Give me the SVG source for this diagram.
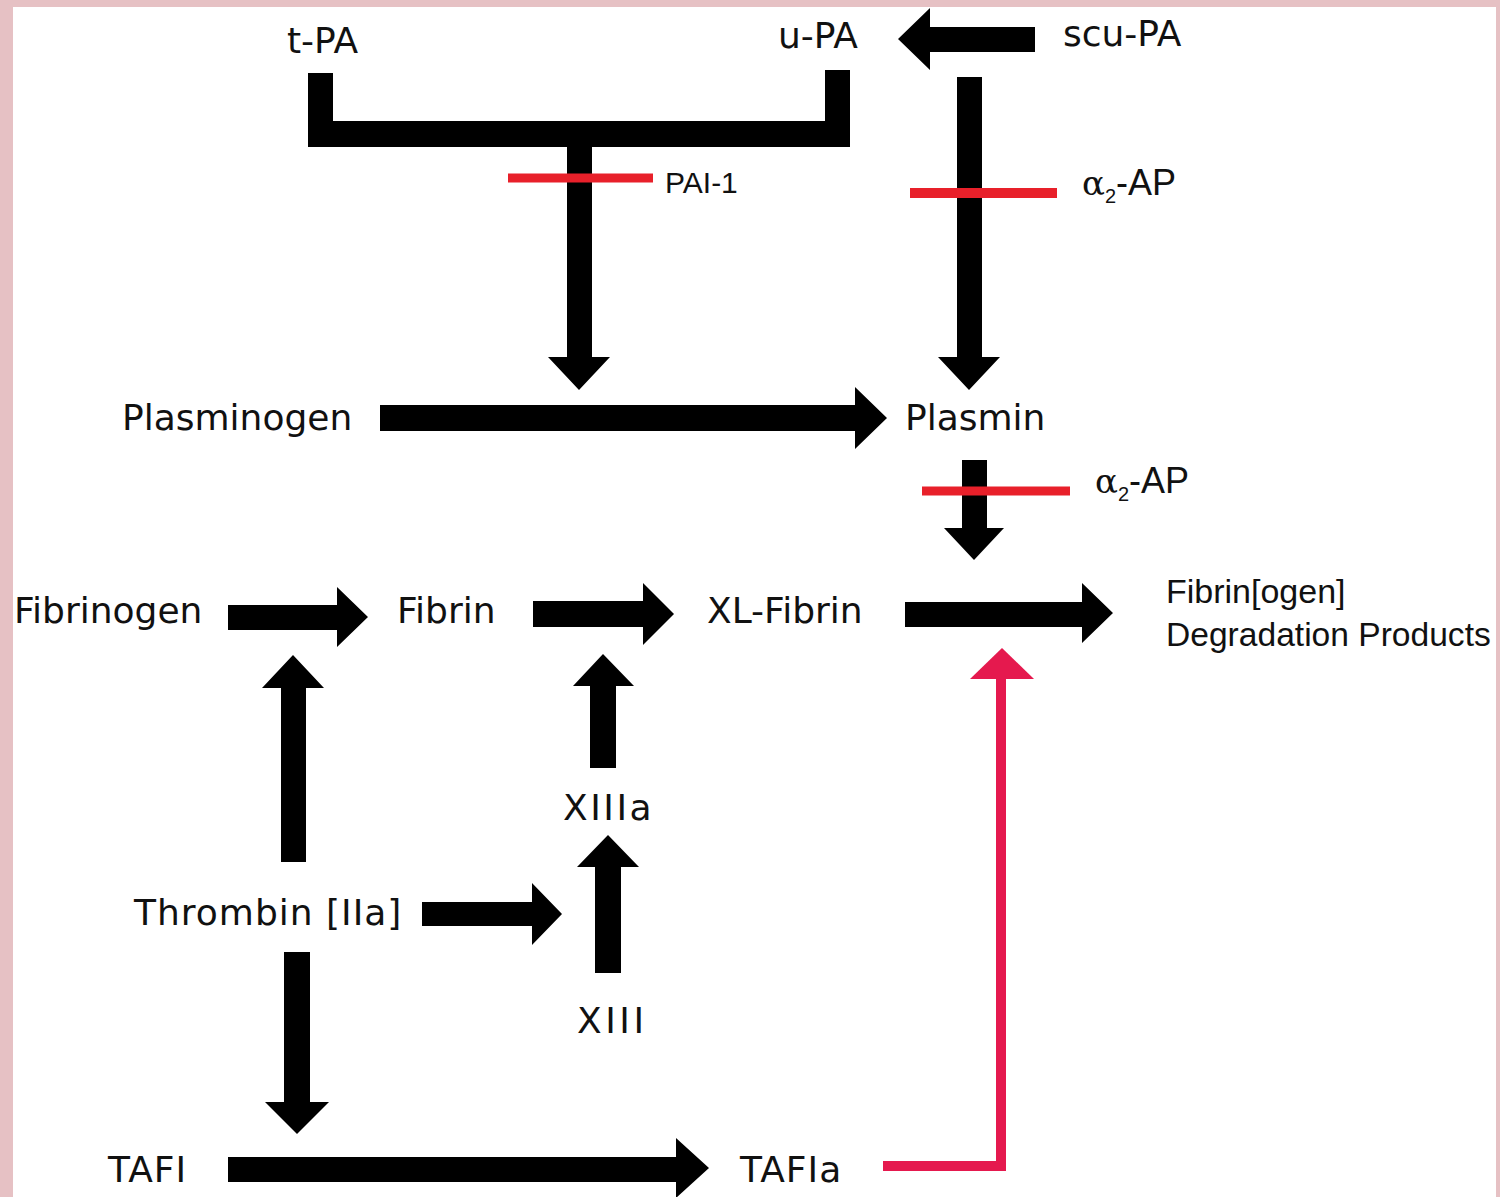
<svg xmlns="http://www.w3.org/2000/svg" width="1500" height="1197" viewBox="0 0 1500 1197">
<style>
.v{font-family:"DejaVu Sans",Verdana,sans-serif;font-size:36px;fill:#111}
.m{font-family:"Liberation Sans",Arial,sans-serif;fill:#111}
.blk{fill:#000}
.inh{stroke:#e8202a;stroke-width:9;fill:none}
.act{stroke:#e5194e;stroke-width:10;fill:none}
.al{font-family:"DejaVu Serif","Liberation Serif",serif;font-size:34px}
</style>
<rect x="0" y="0" width="1500" height="1197" fill="#e6c1c4"/>
<rect x="13" y="7" width="1483" height="1190" fill="#ffffff"/>
<g id="connectors">
<path class="blk" d="M1035,27 L930,27 L930,8 L898,39 L930,70 L930,52 L1035,52 Z"/>
<path class="blk" d="M308,73 L333,73 L333,121 L825,121 L825,70 L850,70 L850,147 L592,147 L592,357 L610,357 L579,390 L548,357 L567,357 L567,147 L308,147 Z"/>
<path class="blk" d="M957,77 L982,77 L982,357 L1000,357 L969,390 L938,357 L957,357 Z"/>
<path class="blk" d="M380,405 L855,405 L855,387 L887,418 L855,449 L855,431 L380,431 Z"/>
<path class="blk" d="M962,460 L987,460 L987,528 L1004,528 L974,560 L944,528 L962,528 Z"/>
<path class="blk" d="M905,602 L1082,602 L1082,583 L1113,613 L1082,643 L1082,627 L905,627 Z"/>
<path class="blk" d="M228,605 L337,605 L337,587 L368,617 L337,647 L337,630 L228,630 Z"/>
<path class="blk" d="M533,601 L643,601 L643,583 L674,614 L643,645 L643,627 L533,627 Z"/>
<path class="blk" d="M281,862 L306,862 L306,688 L324,688 L293,655 L262,688 L281,688 Z"/>
<path class="blk" d="M590,768 L616,768 L616,686 L634,686 L603,654 L573,686 L590,686 Z"/>
<path class="blk" d="M422,902 L532,902 L532,883 L562,914 L532,945 L532,926 L422,926 Z"/>
<path class="blk" d="M595,973 L621,973 L621,867 L639,867 L608,835 L577,867 L595,867 Z"/>
<path class="blk" d="M284,952 L310,952 L310,1102 L329,1102 L297,1134 L265,1102 L284,1102 Z"/>
<path class="blk" d="M228,1157 L676,1157 L676,1138 L709,1168 L676,1198 L676,1182 L228,1182 Z"/>
<line class="inh" x1="508" y1="178" x2="653" y2="178"/>
<line class="inh" x1="910" y1="193" x2="1057" y2="193" style="stroke-width:10"/>
<line class="inh" x1="922" y1="491" x2="1070" y2="491"/>
<path class="act" d="M883,1166 L1001,1166 L1001,676"/>
<path d="M970,679 L1002,648 L1034,679 Z" fill="#e5194e"/>
</g>
<g id="n-tpa"><text class="v" x="287" y="53">t-PA</text></g>
<g id="n-upa"><text class="v" x="778" y="48">u-PA</text></g>
<g id="n-scupa"><text class="v" x="1063" y="46">scu-PA</text></g>
<g id="n-pai1"><text class="m" x="665" y="193" font-size="30">PAI-1</text></g>
<g id="n-a2ap-1"><text class="m" x="1082" y="195" font-size="36"><tspan class="al">α</tspan><tspan font-size="20" dy="8">2</tspan><tspan dy="-8">-AP</tspan></text></g>
<g id="n-plasminogen"><text class="v" x="122" y="430">Plasminogen</text></g>
<g id="n-plasmin"><text class="v" x="905" y="430">Plasmin</text></g>
<g id="n-a2ap-2"><text class="m" x="1095" y="493" font-size="36"><tspan class="al">α</tspan><tspan font-size="20" dy="8">2</tspan><tspan dy="-8">-AP</tspan></text></g>
<g id="n-fibrinogen"><text class="v" x="14" y="623">Fibrinogen</text></g>
<g id="n-fibrin"><text class="v" x="397" y="623">Fibrin</text></g>
<g id="n-xlfibrin"><text class="v" x="707" y="623">XL-Fibrin</text></g>
<g id="n-fdp"><text class="m" x="1166" y="603" font-size="34">Fibrin[ogen]</text><text class="m" x="1166" y="646" font-size="33.6">Degradation Products</text></g>
<g id="n-xiiia"><text class="v" x="563" y="820" letter-spacing="2.5">XIIIa</text></g>
<g id="n-thrombin"><text class="v" x="134" y="925" letter-spacing="1">Thrombin [IIa]</text></g>
<g id="n-xiii"><text class="v" x="577" y="1033" letter-spacing="3.5">XIII</text></g>
<g id="n-tafi"><text class="v" x="108" y="1182" letter-spacing="1">TAFI</text></g>
<g id="n-tafia"><text class="v" x="740" y="1182" letter-spacing="1">TAFIa</text></g>
</svg>
